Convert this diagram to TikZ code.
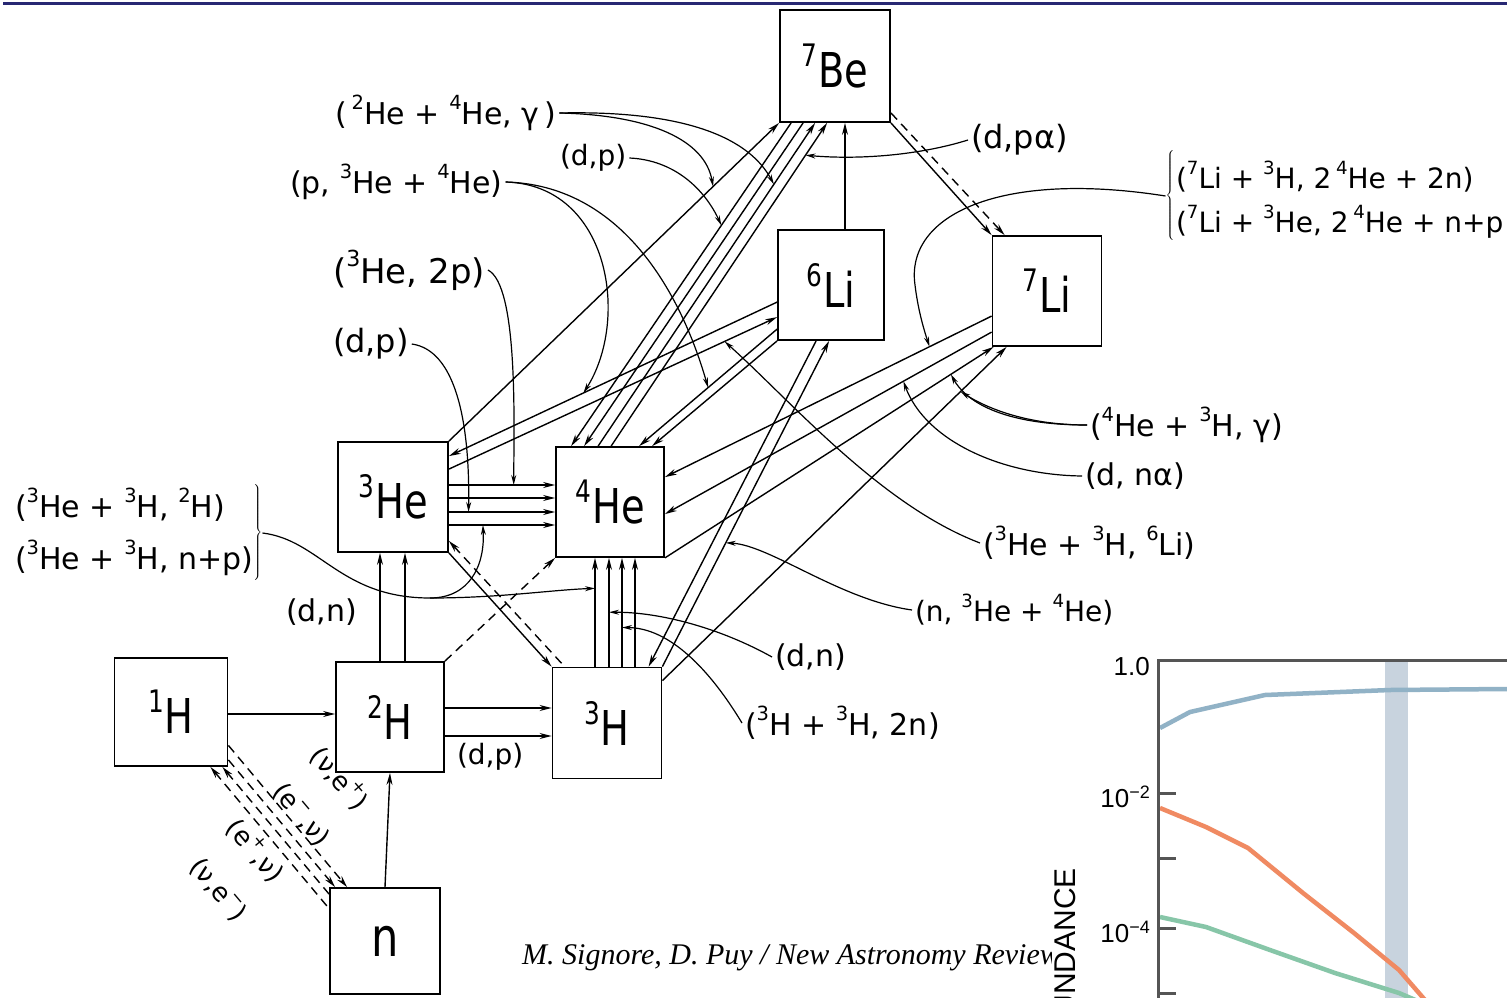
\documentclass[tikz,border=0pt]{standalone}
\usepackage{fontspec}
\setmainfont{DejaVu Sans}
\newfontfamily\nucfont[FakeStretch=0.8]{DejaVu Sans}
\newfontfamily\capfont{Liberation Serif}
\newfontfamily\plotfont{Liberation Sans}
\usetikzlibrary{arrows.meta,calc}
\newcommand\su[1]{\raisebox{0.5em}{\fontsize{0.65em}{0.65em}\selectfont #1}}
\newcommand\nuc[2]{{\nucfont\fontsize{31}{31}\selectfont\raisebox{21pt}{#1}\kern1pt\fontsize{48}{48}\selectfont #2}}
\definecolor{rulec}{RGB}{40,40,115}
\definecolor{band}{RGB}{200,211,222}
\definecolor{cblue}{RGB}{145,178,198}
\definecolor{corange}{RGB}{240,138,98}
\definecolor{cgreen}{RGB}{135,198,168}
\definecolor{axisc}{RGB}{85,85,85}
\tikzset{
 box/.style={draw, line width=1.8pt, inner sep=0pt, align=center},
 con/.style={line width=1.4pt},
 arr/.style={con, -{Stealth[length=12pt,width=6pt]}},
 rarr/.style={con, {Stealth[length=12pt,width=6pt]}-},
 dsh/.style={dash pattern=on 9pt off 6pt},
 ann/.style={line width=1.2pt, -{Stealth[length=10pt,width=5pt]}},
 lab/.style={anchor=west, inner sep=0pt, outer sep=3pt, font=\fontsize{28}{30}\selectfont},
 lab30/.style={lab, font=\fontsize{30}{32}\selectfont},
 lab32/.style={lab, font=\fontsize{32}{34}\selectfont},
 lab34/.style={lab, font=\fontsize{34}{36}\selectfont},
 vlab/.style={inner sep=0pt, rotate=-50, font=\fontsize{26}{28}\selectfont},
}
\begin{document}
\begin{tikzpicture}[x=1pt,y=-1pt]
\clip (0,0) rectangle (1507,998);
\fill[white] (0,0) rectangle (1507,998);
\draw[rulec, line width=3pt] (3,4) -- (1507,4);

% ---------- nuclide boxes
\node[box, minimum width=110pt, minimum height=112pt] (Be7) at (835,66) {\nuc{7}{Be}};
\node[box, minimum width=106pt, minimum height=110pt] (Li6) at (831,285) {\nuc{6}{Li}};
\node[box, minimum width=109pt, minimum height=110pt] (Li7) at (1047,291) {\nuc{7}{Li}};
\node[box, minimum width=110pt, minimum height=110pt] (He3) at (393,497) {\nuc{3}{He}};
\node[box, minimum width=108pt, minimum height=110pt] (He4) at (610,502) {\nuc{4}{He}};
\node[box, minimum width=113pt, minimum height=108pt] (H1) at (171,712) {\nuc{1}{H}};
\node[box, minimum width=108pt, minimum height=110pt] (H2) at (390,717) {\nuc{2}{H}};
\node[box, minimum width=109pt, minimum height=111pt] (H3) at (607,723) {\nuc{3}{H}};
\node[box, minimum width=110pt, minimum height=106pt] (nn) at (385,941) {{\nucfont\fontsize{54}{54}\selectfont n}};

% ---------- labels
\node[lab30] (L1) at (332,113) {(\,\su{2}He + \su{4}He, γ\,)};
\node[lab] (L2) at (557,158) {(d,p)};
\node[lab30] (L3) at (287,182) {(p, \su{3}He + \su{4}He)};
\node[lab34] (L4) at (330,270) {(\su{3}He, 2p)};
\node[lab32] (L5) at (330,344) {(d,p)};
\node[lab30] (L6a) at (12,505) {(\su{3}He + \su{3}H, \su{2}H)};
\node[lab30] (L6b) at (12,558) {(\su{3}He + \su{3}H, n+p)};
\node[inner sep=0pt, anchor=west] (Br6) at (252,533) {$\left.\vrule height 46pt depth 46pt width 0pt\right\}$};
\node[lab30] (L7) at (283,612) {(d,n)};
\node[lab] (L8) at (454,757) {(d,p)};
\node[lab32] (L9) at (968,140) {(d,pα)};
\node[inner sep=0pt, anchor=east] (Br10) at (1176,196) {$\left\{\vrule height 44pt depth 44pt width 0pt\right.$};
\node[lab] (L10a) at (1173,177) {(\su{7}Li + \su{3}H, 2\,\su{4}He + 2n)};
\node[lab] (L10b) at (1173,222) {(\su{7}Li + \su{3}He, 2\,\su{4}He + n+p};
\node[lab30] (L11) at (1087,425) {(\su{4}He + \su{3}H, γ)};
\node[lab30] (L12) at (1082,476) {(d, nα)};
\node[lab30] (L13) at (980,543) {(\su{3}He + \su{3}H, \su{6}Li)};
\node[lab] (L14) at (912,610) {(n, \su{3}He + \su{4}He)};
\node[lab30] (L15) at (772,657) {(d,n)};
\node[lab30] (L16) at (742,723) {(\su{3}H + \su{3}H, 2n)};
\node[vlab] (V1) at (340,778) {(ν,e\su{+})};
\node[vlab] (V2) at (301,815) {(e\su{−},ν)};
\node[vlab] (V3) at (256,850) {(e\su{+},ν)};
\node[vlab] (V4) at (218,890) {(ν,e\su{−})};

% ---------- reaction connectors
\draw[arr] ($(H1.east)+(0,2)$) -- ($(H2.west)+(0,-3)$);
\draw[arr] (nn.north) -- (H2.south);
\draw[arr] ($(H2.east)+(0,-9)$) -- ($(H3.west)+(0,-15)$);
\draw[arr] ($(H2.east)+(0,19)$) -- ($(H3.west)+(0,13)$);
\draw[arr] ($(H2.north)+(-10,0)$) -- ($(He3.south)+(-13,0)$);
\draw[arr] ($(H2.north)+(15,0)$) -- ($(He3.south)+(12,0)$);
\draw[arr,dsh] (H2.north east) -- (He4.south west);
% 3He -> 4He
\draw[arr] ($(He3.east)+(0,-12)$) -- coordinate[pos=0.61] (tD) ($(He4.west)+(0,-17)$);
\draw[arr] ($(He3.east)+(0,1)$) -- ($(He4.west)+(0,-4)$);
\draw[arr] ($(He3.east)+(0,15)$) -- coordinate[pos=0.185] (tE) ($(He4.west)+(0,10)$);
\draw[arr] ($(He3.east)+(0,28)$) -- coordinate[pos=0.32] (tF2) ($(He4.west)+(0,23)$);
% 3H -> 4He
\draw[arr] ($(H3.north)+(-12,0)$) -- coordinate[pos=0.72] (tF1) ($(He4.south)+(-15,0)$);
\draw[arr] ($(H3.north)+(2,0)$) -- coordinate[pos=0.5] (tM) ($(He4.south)+(-1,0)$);
\draw[arr] ($(H3.north)+(15,0)$) -- coordinate[pos=0.36] (tN) ($(He4.south)+(12,0)$);
\draw[arr] ($(H3.north)+(28,0)$) -- ($(He4.south)+(25,0)$);
% 3He <-> 3H
\draw[arr] (He3.south east) -- (H3.north west);
\draw[rarr,dsh] ($(He3.south east)+(0,-12)$) -- ($(H3.north west)+(13,0)$);
% 7Be <-> 7Li
\draw[arr] (Be7.south east) -- (Li7.north west);
\draw[arr,dsh] ($(Be7.south east)+(0,-10)$) -- ($(Li7.north west)+(13,0)$);
% 1H <-> n (weak)
\draw[arr,dsh] ($(H1.south east)+(0,-21.5)$) -- ($(nn.north west)+(18,0)$);
\draw[arr,dsh] ($(H1.south east)+(0,-7)$) -- ($(nn.north west)+(6,0)$);
\draw[rarr,dsh] ($(H1.south east)+(-6,0)$) -- ($(nn.north west)+(0,7)$);
\draw[rarr,dsh] ($(H1.south east)+(-18,0)$) -- ($(nn.north west)+(0,21.5)$);
% 3He -> 7Be
\draw[arr] (He3.north east) -- coordinate[pos=0.8] (tA1) (Be7.south west);
% 4He <-> 7Be bundle
\draw[rarr] ($(He4.north west)+(16,0)$) -- coordinate[pos=0.683] (tB) ($(Be7.south west)+(12,0)$);
\draw[rarr] ($(He4.north west)+(29,0)$) -- ($(Be7.south west)+(24,0)$);
\draw[arr] ($(He4.north west)+(43,0)$) -- coordinate[pos=0.81] (tA2) ($(Be7.south west)+(36,0)$);
\draw[arr] ($(He4.north west)+(56,0)$) -- coordinate[pos=0.9] (tG) ($(Be7.south west)+(48,0)$);
% 3He <-> 6Li
\draw[rarr] ($(He3.north east)+(0,15)$) -- coordinate[pos=0.41] (tC1) ($(Li6.north west)+(0,73)$);
\draw[arr] ($(He3.north east)+(0,28)$) -- coordinate[pos=0.84] (tK) ($(Li6.north west)+(0,88)$);
% 6Li -> 4He
\draw[arr] ($(Li6.north west)+(0,100)$) -- coordinate[pos=0.5] (tC2) ($(He4.north west)+(84,0)$);
\draw[arr] (Li6.south west) -- ($(He4.north west)+(97,0)$);
% 6Li <-> 3H
\draw[arr] ($(Li6.south west)+(39,0)$) -- ($(H3.north west)+(97,0)$);
\draw[arr] (H3.north east) -- coordinate[pos=0.38] (tL) ($(Li6.south west)+(52,0)$);
% 7Li -> 4He
\draw[arr] ($(Li7.north west)+(0,81)$) -- coordinate[pos=0.19] (tH) ($(He4.north east)+(0,31)$);
\draw[arr] ($(Li7.north west)+(0,97)$) -- coordinate[pos=0.27] (tJ) ($(He4.north east)+(0,68)$);
% 4He, 3H -> 7Li
\draw[arr] (He4.south east) -- coordinate[pos=0.87] (tI2) ($(Li7.south west)+(2,0)$);
\draw[arr] ($(H3.north east)+(0,14)$) -- coordinate[pos=0.866] (tI1) ($(Li7.south west)+(15,0)$);
% 6Li -> 7Be
\draw[arr] ($(Li6.north)+(14,0)$) -- ($(Be7.south)+(10,0)$);

% ---------- annotation curves
\coordinate (fj) at (430,598);
\draw[ann] (L1.east) .. controls (650,115) and (705,140) .. (tA1);
\draw[ann] (L1.east) .. controls (690,110) and (750,140) .. (tA2);
\draw[ann] (L2.east) .. controls (675,160) and (705,190) .. (tB);
\draw[ann] (L3.east) .. controls (610,185) and (630,320) .. (tC1);
\draw[ann] (L3.east) .. controls (620,185) and (680,290) .. (tC2);
\draw[ann] (L4.east) .. controls (518,285) and (514,420) .. (tD);
\draw[ann] (L5.east) .. controls (455,350) and (470,420) .. (tE);
\draw[ann] (Br6.east) .. controls (320,540) and (340,598) .. (fj) .. controls (500,598) and (550,590) .. (tF1);
\draw[ann] (fj) .. controls (470,598) and (485,565) .. (tF2);
\draw[ann] (L9.west) .. controls (920,155) and (860,160) .. (tG);
\draw[ann] (Br10.west) .. controls (1000,170) and (905,215) .. (915,285) .. controls (918,310) and (924,330) .. (tH);
\draw[ann] (L11.west) .. controls (1030,425) and (990,410) .. (tI1);
\draw[ann] (L11.west) .. controls (1000,425) and (965,400) .. (tI2);
\draw[ann] (L12.west) .. controls (1000,475) and (925,440) .. (tJ);
\draw[ann] (L13.west) .. controls (880,505) and (790,400) .. (tK);
\draw[ann] (L14.west) .. controls (840,600) and (770,545) .. (tL);
\draw[ann] (L15.west) .. controls (720,628) and (660,612) .. (tM);
\draw[ann] (L16.west) .. controls (710,670) and (670,628) .. (tN);

% ---------- caption
\node[anchor=west, inner sep=0pt] (cap) at (522,958) {\capfont\itshape\fontsize{30}{30}\selectfont M. Signore, D. Puy / New Astronomy Reviews};

% ---------- plot fragment
\fill[white] (1052,640) rectangle (1507,998);
\fill[band] (1385,660) rectangle (1408,998);
\draw[cblue, line width=4.5pt, line join=round] (1160,728) -- (1190,712) -- (1265,695) -- (1390,690) -- (1507,689);
\draw[corange, line width=4.5pt, line join=round] (1160,808) -- (1206,827) -- (1248,848) -- (1303,893) -- (1354,933) -- (1399,970) -- (1425,1000);
\draw[cgreen, line width=4.5pt, line join=round] (1160,917) -- (1206,927) -- (1270,950) -- (1335,973) -- (1399,993) -- (1420,1002);
\draw[axisc, line width=3pt] (1507,660) -- (1158,660) -- (1158,1000);
\foreach \yy in {793,858,928,993} \draw[axisc, line width=3pt] (1158,\yy) -- (1176,\yy);
\node[anchor=east, inner sep=0pt, font=\plotfont\fontsize{26}{26}\selectfont] (t0) at (1150,667) {1.0};
\node[anchor=east, inner sep=0pt, font=\plotfont\fontsize{26}{26}\selectfont] (t2) at (1150,797) {10\raisebox{9pt}{\fontsize{18}{18}\selectfont −2}};
\node[anchor=east, inner sep=0pt, font=\plotfont\fontsize{26}{26}\selectfont] (t4) at (1150,932) {10\raisebox{9pt}{\fontsize{18}{18}\selectfont −4}};
\node[rotate=90, anchor=east, inner sep=0pt, font=\plotfont\fontsize{30}{30}\selectfont] (yl) at (1065,868) {ABUNDANCE};
\end{tikzpicture}
\end{document}
